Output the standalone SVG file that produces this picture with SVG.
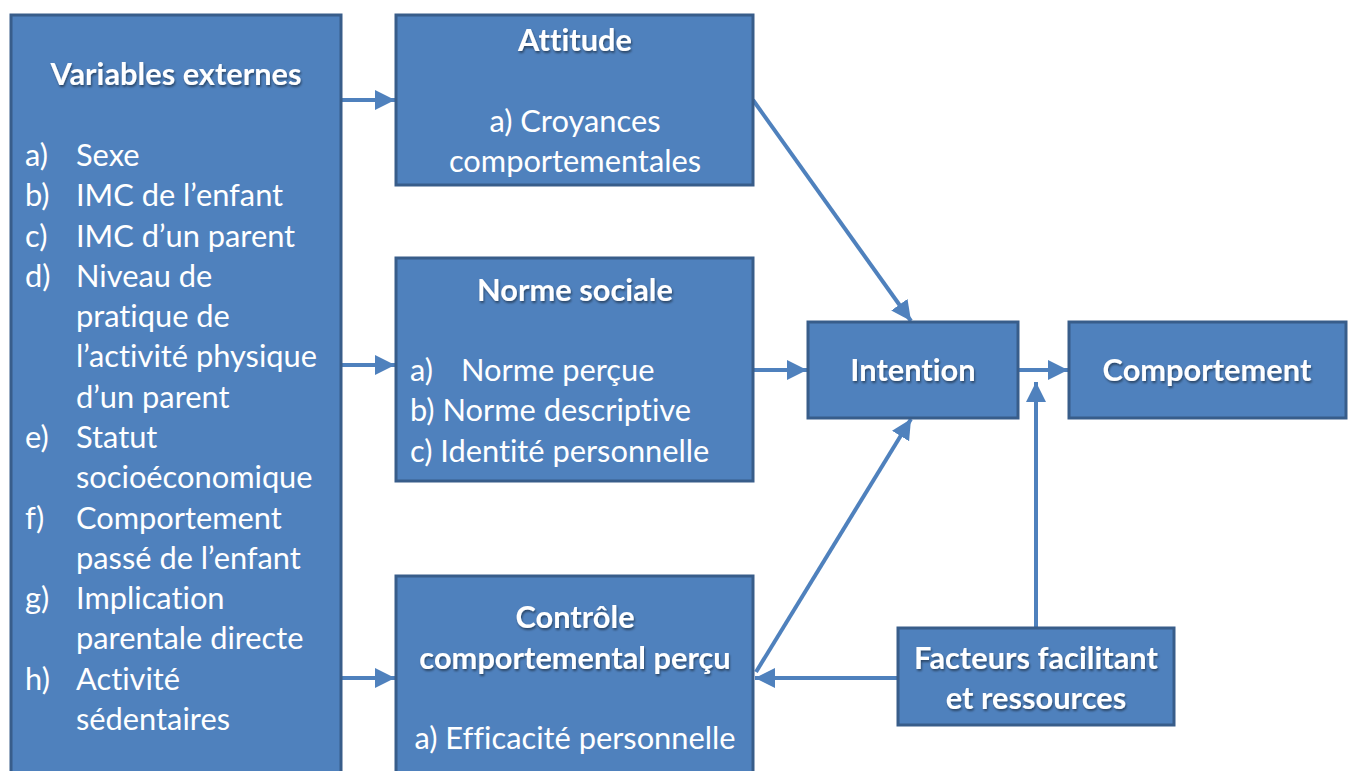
<svg xmlns="http://www.w3.org/2000/svg" width="1352" height="771" viewBox="0 0 1352 771">
<defs>
<marker id="ah" viewBox="0 0 10 10" refX="10" refY="5" markerWidth="5" markerHeight="5" markerUnits="strokeWidth" orient="auto">
<path d="M0,0 L10,5 L0,10 z" fill="#4F81BD"/>
</marker>
<filter id="sh" x="-10%" y="-10%" width="120%" height="130%">
<feDropShadow dx="1" dy="2" stdDeviation="1" flood-color="#000" flood-opacity="0.45"/>
</filter>
</defs>
<style>
.box{fill:#4F81BD;stroke:#385D8A;stroke-width:3}
.t{font-family:Lato,"Liberation Sans",sans-serif;font-size:30.8px;fill:#fff;font-variant-ligatures:none;font-feature-settings:"liga" 0,"dlig" 0}
.b{font-weight:bold;filter:url(#sh)}
.c{text-anchor:middle}
.con{stroke:#4F81BD;stroke-width:4;fill:none;marker-end:url(#ah)}
</style>
<rect width="1352" height="771" fill="#fff"/>
<g id="connectors">
<line class="con" x1="342" y1="100" x2="395" y2="100"/>
<line class="con" x1="342" y1="365" x2="395" y2="365"/>
<line class="con" x1="342" y1="678" x2="395" y2="678"/>
<line class="con" x1="753" y1="100" x2="911" y2="321"/>
<line class="con" x1="754" y1="370" x2="807" y2="370"/>
<line class="con" x1="756" y1="672" x2="911" y2="419"/>
<line class="con" x1="1019" y1="370" x2="1068" y2="370"/>
<line class="con" x1="1036" y1="628" x2="1036" y2="382"/>
<line class="con" x1="897" y1="678" x2="755" y2="678"/>
</g>
<g id="variables">
<rect class="box" x="11" y="15" width="330" height="770"/>
<text class="t b c" x="176" y="85">Variables externes</text>
<g class="t">
<text x="25" y="166">a)</text><text x="76" y="166">Sexe</text>
<text x="25" y="206">b)</text><text x="76" y="206">IMC de l’enfant</text>
<text x="25" y="247">c)</text><text x="76" y="247">IMC d’un parent</text>
<text x="25" y="287">d)</text><text x="76" y="287">Niveau de</text>
<text x="76" y="327">pratique de</text>
<text x="76" y="367">l’activité physique</text>
<text x="76" y="408">d’un parent</text>
<text x="25" y="448">e)</text><text x="76" y="448">Statut</text>
<text x="76" y="488">socioéconomique</text>
<text x="25" y="529">f)</text><text x="76" y="529">Comportement</text>
<text x="76" y="569">passé de l’enfant</text>
<text x="25" y="609">g)</text><text x="76" y="609">Implication</text>
<text x="76" y="649">parentale directe</text>
<text x="25" y="690">h)</text><text x="76" y="690">Activité</text>
<text x="76" y="730">sédentaires</text>
</g>
</g>
<g id="attitude">
<rect class="box" x="396" y="15" width="357" height="170"/>
<text class="t b c" x="575" y="51">Attitude</text>
<text class="t c" x="575" y="132">a) Croyances</text>
<text class="t c" x="575" y="172">comportementales</text>
</g>
<g id="norme">
<rect class="box" x="396" y="258" width="357" height="223"/>
<text class="t b c" x="575" y="301">Norme sociale</text>
<text class="t" x="410" y="381">a)</text><text class="t" x="461" y="381">Norme perçue</text>
<text class="t" x="410" y="421">b) Norme descriptive</text>
<text class="t" x="410" y="462">c) Identité personnelle</text>
</g>
<g id="controle">
<rect class="box" x="396" y="576" width="357" height="210"/>
<text class="t b c" x="575" y="628">Contrôle</text>
<text class="t b c" x="575" y="669">comportemental perçu</text>
<text class="t c" x="575" y="749">a) Efficacité personnelle</text>
</g>
<g id="intention">
<rect class="box" x="808" y="322" width="210" height="96"/>
<text class="t b c" x="913" y="381">Intention</text>
</g>
<g id="comportement">
<rect class="box" x="1069" y="322" width="277" height="96"/>
<text class="t b c" x="1207" y="381">Comportement</text>
</g>
<g id="facteurs">
<rect class="box" x="898" y="628" width="276" height="97"/>
<text class="t b c" x="1036" y="669">Facteurs facilitant</text>
<text class="t b c" x="1036" y="709">et ressources</text>
</g>
</svg>
